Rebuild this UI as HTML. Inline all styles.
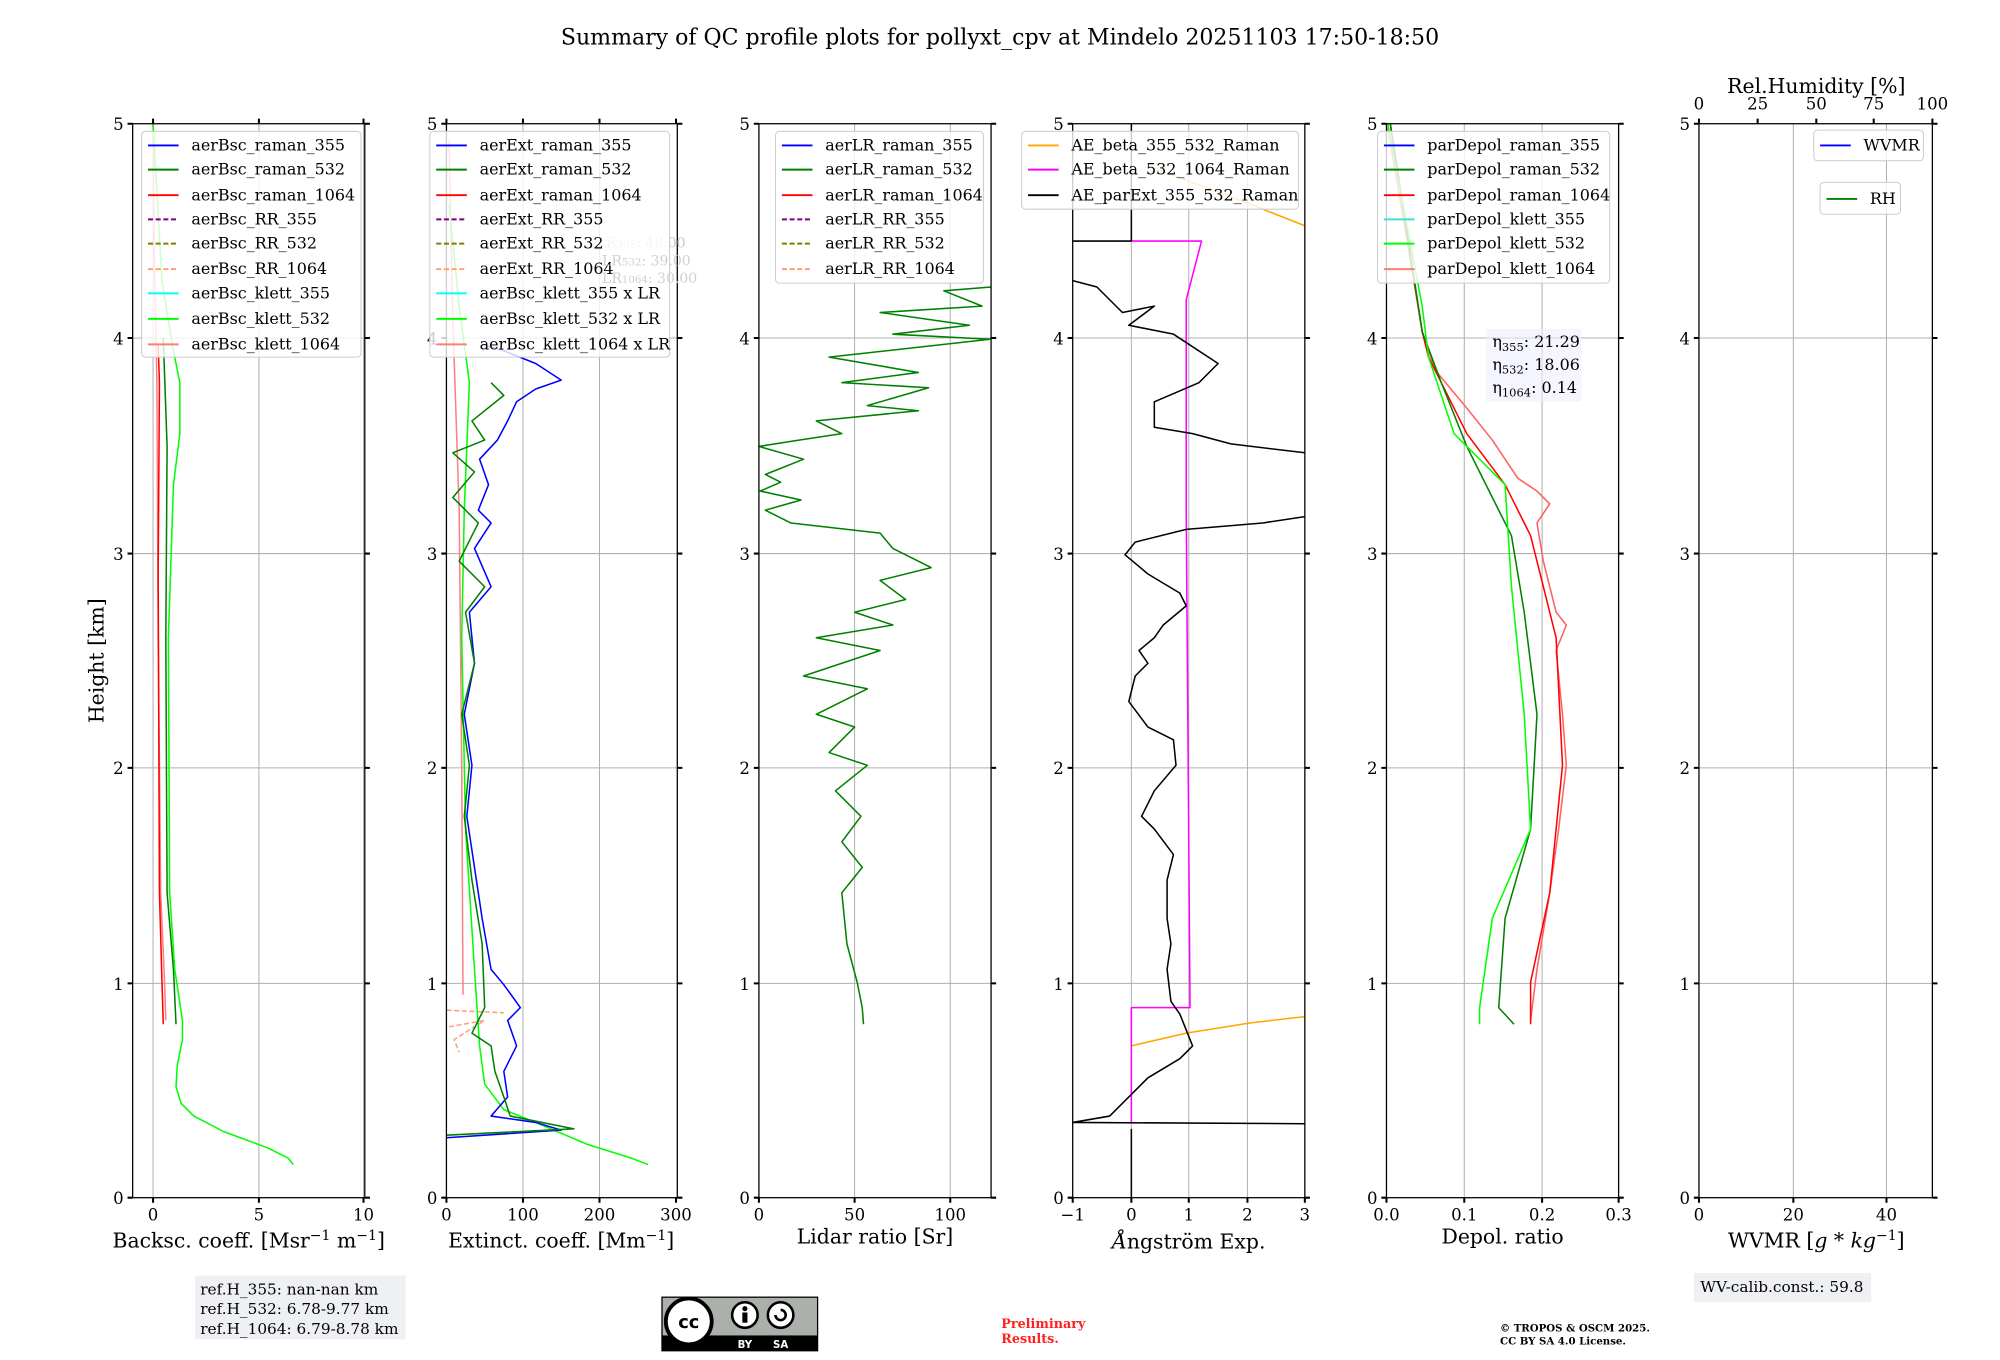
<!DOCTYPE html>
<html><head><meta charset="utf-8"><style>
html,body{margin:0;padding:0;background:#fff}
svg{display:block}
text{font-family:"DejaVu Serif","Liberation Serif",serif;fill:#000}
.t{font-size:13px}
.lg{font-size:12.5px}
.al{font-size:16px}
.gr{stroke:#b0b0b0;stroke-width:0.8}
.sp{fill:none;stroke:#000;stroke-width:1}
.c{fill:none;stroke-width:1.2;stroke-linejoin:round}
.lb{fill:#fff;fill-opacity:0.8;stroke:#ccc;stroke-width:0.8}
</style></head><body>
<svg width="2000" height="1360" viewBox="0 0 2000 1360" xmlns="http://www.w3.org/2000/svg">
<g transform="scale(1.2755)">
<text x="784" y="35" text-anchor="middle" style="font-size:17.3px">Summary of QC profile plots for pollyxt_cpv at Mindelo 20251103 17:50-18:50</text>
<text transform="translate(81,518) rotate(-90)" text-anchor="middle" class="al">Height [km]</text>

<g class="gr">
<path d="M104 265H286M104 434H286M104 602H286M104 771H286"/>
<path d="M350 265H531M350 434H531M350 602H531M350 771H531"/>
<path d="M595 265H777M595 434H777M595 602H777M595 771H777"/>
<path d="M841 265H1023M841 434H1023M841 602H1023M841 771H1023"/>
<path d="M1087 265H1269M1087 434H1269M1087 602H1269M1087 771H1269"/>
<path d="M1332 265H1515M1332 434H1515M1332 602H1515M1332 771H1515"/>
<path d="M120 97V939M203 97V939M285 97V939"/>
<path d="M410 97V939M470 97V939"/>
<path d="M670 97V939M745 97V939"/>
<path d="M887 97V939M932 97V939M978 97V939"/>
<path d="M1148 97V939M1209 97V939"/>
<path d="M1406 97V939M1479 97V939"/>
</g>

<g>
<path class="c" stroke="#ff8080" d="M120 97L121 200L123 300L124 500L126 700L129 770L130 800"/>
<path class="c" stroke="#ff0000" d="M124 270L125 300L124 450L125 700L127 770L128 803"/>
<path class="c" stroke="#008000" d="M128 265L131 350L130 500L131 700L136 760L138 803"/>
<path class="c" stroke="#00ff00" d="M120 97L127 220L135 270L141 300L141 340L136 380L132 500L133 700L137 760L143 800L143 815L139 835L138 852L142 865L152 875L175 887L210 900L226 908L230 913"/>
</g>
<g>
<path class="c" stroke="#ff8080" d="M352 110L355 250L360 400L362 600L363 780"/>
<path class="c" stroke="#ffa07a" stroke-dasharray="4,2" d="M350 792L395 794M352 805L380 800L356 815L360 825"/>
<path class="c" stroke="#00ff00" d="M352 160L360 240L368 300L364 400L362 500L365 650L372 760L376 820L380 850L395 870L420 880L460 897L495 908L508 913"/>
<path class="c" stroke="#0000ff" d="M378 270L395 275L420 285L440 298L420 305L405 315L398 330L390 345L376 360L383 380L375 400L385 410L372 430L385 460L368 480L372 520L364 560L370 600L366 640L372 680L378 720L385 760L395 772L408 790L398 800L405 820L395 840L398 860L385 875L420 880L440 886L350 892"/>
<path class="c" stroke="#008000" d="M385 300L395 310L370 330L380 345L355 355L372 370L355 390L375 410L360 440L380 460L365 480L372 520L362 560L368 600L364 640L370 690L378 740L380 790L370 810L385 820L388 840L395 860L400 875L450 885L350 890"/>
</g>
<g>
<path class="c" stroke="#008000" d="M777 225L740 228L770 240L690 245L760 255L700 262L776 266L650 280L720 292L660 300L728 304L680 318L720 322L640 330L660 340L620 346L595 350L630 360L600 372L612 378L596 385L628 392L600 400L620 410L690 418L700 430L730 445L690 455L710 470L670 480L700 490L640 500L690 510L630 530L680 540L640 560L670 570L650 590L680 600L655 620L675 640L660 660L676 680L660 700L664 740L672 770L676 790L677 803"/>
</g>
<g>
<path class="c" stroke="#ffa500" d="M900 130L940 145L980 160L1023 177"/>
<path class="c" stroke="#ffa500" d="M887 820L930 810L980 802L1023 797"/>
<path class="c" stroke="#ff00ff" d="M887 189L942 189L930 235L930 400L933 790L887 790L887 880"/>
<path class="c" stroke="#000" d="M887 97L887 189M841 189L887 189"/>
<path class="c" stroke="#000" d="M841 220L860 225L880 245L905 240L885 255L920 262L955 285L940 300L905 315L905 335L935 340L965 348L1023 355"/>
<path class="c" stroke="#000" d="M1023 405L990 410L930 415L890 425L882 435L900 450L925 465L930 475L912 490L905 500L893 510L900 520L890 530L885 550L900 570L920 580L922 600L905 620L895 640L905 650L920 670L915 690L915 720L918 740L915 760L918 785L925 795L935 820L925 830L900 845L885 860L870 875L841 880L1023 881M887 885L887 939"/>
</g>
<g>
<path class="c" stroke="#ff6060" stroke-width="1" d="M1088 100L1105 200L1110 230L1115 260L1125 290L1150 320L1170 345L1190 375L1205 385L1215 395L1205 410L1210 440L1220 480L1228 490L1220 510L1225 560L1228 600L1222 650L1215 700L1205 760L1200 800"/>
<path class="c" stroke="#ff0000" d="M1090 97L1115 260L1120 280L1150 340L1180 380L1200 420L1210 460L1220 500L1225 600L1215 700L1200 770L1200 803"/>
<path class="c" stroke="#008000" d="M1090 97L1115 260L1130 300L1150 350L1185 420L1195 480L1205 560L1200 650L1180 720L1175 790L1187 803"/>
<path class="c" stroke="#00ff00" d="M1088 97L1115 240L1120 280L1140 340L1180 380L1185 460L1195 560L1200 650L1170 720L1160 790L1160 803"/>
<rect x="1165" y="258" width="75" height="57" fill="#eef" fill-opacity="0.6"/>
<text x="1170" y="272" class="lg">η<tspan font-size="9" dy="3">355</tspan><tspan dy="-3">: 21.29</tspan></text>
<text x="1170" y="290" class="lg">η<tspan font-size="9" dy="3">532</tspan><tspan dy="-3">: 18.06</tspan></text>
<text x="1170" y="308" class="lg">η<tspan font-size="9" dy="3">1064</tspan><tspan dy="-3">: 0.14</tspan></text>
</g>

<g class="sp">
<rect x="104" y="97" width="182" height="842"/>
<rect x="350" y="97" width="181" height="842"/>
<rect x="595" y="97" width="182" height="842"/>
<rect x="841" y="97" width="182" height="842"/>
<rect x="1087" y="97" width="182" height="842"/>
<rect x="1332" y="97" width="183" height="842"/>
</g>
<g stroke="#000" stroke-width="1.6">
<path d="M100 97h4M100 265h4M100 434h4M100 602h4M100 771h4M100 939h4M286 97h4M286 265h4M286 434h4M286 602h4M286 771h4M286 939h4"/>
<path d="M346 97h4M346 265h4M346 434h4M346 602h4M346 771h4M346 939h4M531 97h4M531 265h4M531 434h4M531 602h4M531 771h4M531 939h4"/>
<path d="M591 97h4M591 265h4M591 434h4M591 602h4M591 771h4M591 939h4M777 97h4M777 265h4M777 434h4M777 602h4M777 771h4M777 939h4"/>
<path d="M837 97h4M837 265h4M837 434h4M837 602h4M837 771h4M837 939h4M1023 97h4M1023 265h4M1023 434h4M1023 602h4M1023 771h4M1023 939h4"/>
<path d="M1083 97h4M1083 265h4M1083 434h4M1083 602h4M1083 771h4M1083 939h4M1269 97h4M1269 265h4M1269 434h4M1269 602h4M1269 771h4M1269 939h4"/>
<path d="M1328 97h4M1328 265h4M1328 434h4M1328 602h4M1328 771h4M1328 939h4M1515 97h4M1515 265h4M1515 434h4M1515 602h4M1515 771h4M1515 939h4"/>
<path d="M120 939v4M203 939v4M285 939v4M120 97v-4M203 97v-4M285 97v-4"/>
<path d="M350 939v4M410 939v4M470 939v4M530 939v4M350 97v-4M410 97v-4M470 97v-4M530 97v-4"/>
<path d="M595 939v4M670 939v4M745 939v4"/>
<path d="M841 939v4M887 939v4M932 939v4M978 939v4M1023 939v4"/>
<path d="M1087 939v4M1148 939v4M1209 939v4M1269 939v4"/>
<path d="M1332 939v4M1406 939v4M1479 939v4M1332 97v-4M1378 97v-4M1424 97v-4M1469 97v-4M1515 97v-4"/>
</g>

<g class="t" text-anchor="end">
<text x="97" y="102">5</text><text x="97" y="270">4</text><text x="97" y="439">3</text><text x="97" y="607">2</text><text x="97" y="776">1</text><text x="97" y="944">0</text>
<text x="343" y="102">5</text><text x="343" y="270">4</text><text x="343" y="439">3</text><text x="343" y="607">2</text><text x="343" y="776">1</text><text x="343" y="944">0</text>
<text x="588" y="102">5</text><text x="588" y="270">4</text><text x="588" y="439">3</text><text x="588" y="607">2</text><text x="588" y="776">1</text><text x="588" y="944">0</text>
<text x="834" y="102">5</text><text x="834" y="270">4</text><text x="834" y="439">3</text><text x="834" y="607">2</text><text x="834" y="776">1</text><text x="834" y="944">0</text>
<text x="1080" y="102">5</text><text x="1080" y="270">4</text><text x="1080" y="439">3</text><text x="1080" y="607">2</text><text x="1080" y="776">1</text><text x="1080" y="944">0</text>
<text x="1325" y="102">5</text><text x="1325" y="270">4</text><text x="1325" y="439">3</text><text x="1325" y="607">2</text><text x="1325" y="776">1</text><text x="1325" y="944">0</text>
</g>
<g class="t" text-anchor="middle">
<text x="120" y="957">0</text><text x="203" y="957">5</text><text x="285" y="957">10</text>
<text x="350" y="957">0</text><text x="410" y="957">100</text><text x="470" y="957">200</text><text x="530" y="957">300</text>
<text x="595" y="957">0</text><text x="670" y="957">50</text><text x="745" y="957">100</text>
<text x="841" y="957">−1</text><text x="887" y="957">0</text><text x="932" y="957">1</text><text x="978" y="957">2</text><text x="1023" y="957">3</text>
<text x="1087" y="957">0.0</text><text x="1148" y="957">0.1</text><text x="1209" y="957">0.2</text><text x="1269" y="957">0.3</text>
<text x="1332" y="957">0</text><text x="1406" y="957">20</text><text x="1479" y="957">40</text>
<text x="1332" y="86">0</text><text x="1378" y="86">25</text><text x="1424" y="86">50</text><text x="1469" y="86">75</text><text x="1515" y="86">100</text>
</g>
<g class="al" text-anchor="middle">
<text x="195" y="978">Backsc. coeff. [Msr<tspan font-size="11" dy="-6">−1</tspan><tspan dy="6"> m</tspan><tspan font-size="11" dy="-6">−1</tspan><tspan dy="6">]</tspan></text>
<text x="440" y="978">Extinct. coeff. [Mm<tspan font-size="11" dy="-6">−1</tspan><tspan dy="6">]</tspan></text>
<text x="686" y="975">Lidar ratio [Sr]</text>
<text x="932" y="979"><tspan font-style="italic">Å</tspan>ngström Exp.</text>
<text x="1178" y="975">Depol. ratio</text>
<text x="1424" y="978">WVMR [<tspan font-style="italic">g</tspan> * <tspan font-style="italic">kg</tspan><tspan font-size="11" dy="-6">−1</tspan><tspan dy="6">]</tspan></text>
<text x="1424" y="73">Rel.Humidity [%]</text>
</g>

<g class="lg">
<rect class="lb" x="111" y="103" width="172" height="177" rx="3"/>
<g stroke-width="1.5" fill="none">
<path stroke="#0000ff" d="M116 114h24"/><path stroke="#008000" d="M116 133h24"/><path stroke="#ff0000" d="M116 153h24"/>
<path stroke="#800080" stroke-dasharray="4,2" d="M116 172h24"/><path stroke="#808000" stroke-dasharray="4,2" d="M116 191h24"/><path stroke="#ffa07a" stroke-dasharray="4,2" d="M116 211h24"/>
<path stroke="#00ffff" d="M116 230h24"/><path stroke="#00ff00" d="M116 250h24"/><path stroke="#fa8072" d="M116 270h24"/>
</g>
<text x="150" y="118">aerBsc_raman_355</text><text x="150" y="137">aerBsc_raman_532</text><text x="150" y="157">aerBsc_raman_1064</text>
<text x="150" y="176">aerBsc_RR_355</text><text x="150" y="195">aerBsc_RR_532</text><text x="150" y="215">aerBsc_RR_1064</text>
<text x="150" y="234">aerBsc_klett_355</text><text x="150" y="254">aerBsc_klett_532</text><text x="150" y="274">aerBsc_klett_1064</text>

<text x="468" y="194" font-size="11" style="fill:#c8c8c8">LR<tspan font-size="8">355</tspan>: 48.00</text>
<rect class="lb" x="337" y="103" width="188" height="177" rx="3"/>
<g stroke-width="1.5" fill="none">
<path stroke="#0000ff" d="M342 114h24"/><path stroke="#008000" d="M342 133h24"/><path stroke="#ff0000" d="M342 153h24"/>
<path stroke="#800080" stroke-dasharray="4,2" d="M342 172h24"/><path stroke="#808000" stroke-dasharray="4,2" d="M342 191h24"/><path stroke="#ffa07a" stroke-dasharray="4,2" d="M342 211h24"/>
<path stroke="#00ffff" d="M342 230h24"/><path stroke="#00ff00" d="M342 250h24"/><path stroke="#fa8072" d="M342 270h24"/>
</g>
<text x="376" y="118">aerExt_raman_355</text><text x="376" y="137">aerExt_raman_532</text><text x="376" y="157">aerExt_raman_1064</text>
<text x="376" y="176">aerExt_RR_355</text><text x="376" y="195">aerExt_RR_532</text><text x="376" y="215">aerExt_RR_1064</text>
<text x="376" y="234">aerBsc_klett_355 x LR</text><text x="376" y="254">aerBsc_klett_532 x LR</text><text x="376" y="274">aerBsc_klett_1064 x LR</text>
<text x="472" y="208" font-size="11" style="fill:#d0d0d0">LR<tspan font-size="8">532</tspan>: 39.00</text>
<text x="472" y="222" font-size="11" style="fill:#d0d0d0">LR<tspan font-size="8">1064</tspan>: 30.00</text>

<rect class="lb" x="608" y="103" width="163" height="119" rx="3"/>
<g stroke-width="1.5" fill="none">
<path stroke="#0000ff" d="M613 114h24"/><path stroke="#008000" d="M613 133h24"/><path stroke="#ff0000" d="M613 153h24"/>
<path stroke="#800080" stroke-dasharray="4,2" d="M613 172h24"/><path stroke="#808000" stroke-dasharray="4,2" d="M613 191h24"/><path stroke="#ffa07a" stroke-dasharray="4,2" d="M613 211h24"/>
</g>
<text x="647" y="118">aerLR_raman_355</text><text x="647" y="137">aerLR_raman_532</text><text x="647" y="157">aerLR_raman_1064</text>
<text x="647" y="176">aerLR_RR_355</text><text x="647" y="195">aerLR_RR_532</text><text x="647" y="215">aerLR_RR_1064</text>

<rect class="lb" x="801" y="103" width="217" height="61" rx="3"/>
<g stroke-width="1.5" fill="none">
<path stroke="#ffa500" d="M806 114h24"/><path stroke="#ff00ff" d="M806 133h24"/><path stroke="#000" d="M806 153h24"/>
</g>
<text x="840" y="118">AE_beta_355_532_Raman</text><text x="840" y="137">AE_beta_532_1064_Raman</text><text x="840" y="157">AE_parExt_355_532_Raman</text>

<rect class="lb" x="1080" y="103" width="182" height="119" rx="3"/>
<g stroke-width="1.5" fill="none">
<path stroke="#0000ff" d="M1085 114h24"/><path stroke="#008000" d="M1085 133h24"/><path stroke="#ff0000" d="M1085 153h24"/>
<path stroke="#40e0d0" d="M1085 172h24"/><path stroke="#00ff00" d="M1085 191h24"/><path stroke="#fa8072" d="M1085 211h24"/>
</g>
<text x="1119" y="118">parDepol_raman_355</text><text x="1119" y="137">parDepol_raman_532</text><text x="1119" y="157">parDepol_raman_1064</text>
<text x="1119" y="176">parDepol_klett_355</text><text x="1119" y="195">parDepol_klett_532</text><text x="1119" y="215">parDepol_klett_1064</text>

<rect class="lb" x="1422" y="102" width="86" height="24" rx="3"/>
<path stroke="#0000ff" stroke-width="1.5" d="M1427 114h24"/><text x="1461" y="118">WVMR</text>
<rect class="lb" x="1427" y="143" width="63" height="25" rx="3"/>
<path stroke="#008000" stroke-width="1.5" d="M1432 156h24"/><text x="1466" y="160">RH</text>
</g>

<rect x="153" y="1000" width="165" height="50" fill="#eef0f4"/>
<g style="font-size:12px">
<text x="157" y="1015">ref.H_355: nan-nan km</text>
<text x="157" y="1030">ref.H_532: 6.78-9.77 km</text>
<text x="157" y="1046">ref.H_1064: 6.79-8.78 km</text>
</g>
<rect x="1328" y="998" width="139" height="23" fill="#eef0f4"/>
<text x="1333" y="1013" style="font-size:12px">WV-calib.const.: 59.8</text>
<text x="785" y="1041" style="font-size:10px;font-weight:bold;fill:#ff2020">Preliminary</text>
<text x="785" y="1053" style="font-size:10px;font-weight:bold;fill:#ff2020">Results.</text>
<text x="1176" y="1044" style="font-size:8px;font-weight:bold">© TROPOS &amp; OSCM 2025.</text>
<text x="1176" y="1054" style="font-size:8px;font-weight:bold">CC BY SA 4.0 License.</text>
<g>
<rect x="519" y="1017" width="122" height="42" fill="#abb1aa" stroke="#000" stroke-width="1"/>
<rect x="519" y="1047" width="122" height="12" fill="#000"/>
<circle cx="540" cy="1036" r="18" fill="#fff" stroke="#000" stroke-width="3"/>
<text x="540" y="1041" text-anchor="middle" style="font-family:'DejaVu Sans',sans-serif;font-size:14px;font-weight:bold">cc</text>
<circle cx="584" cy="1031" r="10" fill="#fff" stroke="#000" stroke-width="2"/>
<circle cx="584" cy="1026" r="2" fill="#000"/><rect x="582" y="1029" width="4" height="8" fill="#000"/>
<circle cx="612" cy="1031" r="10" fill="#fff" stroke="#000" stroke-width="2"/>
<path d="M608 1031a4 4 0 1 0 4-4" fill="none" stroke="#000" stroke-width="2"/>
<text x="584" y="1057" text-anchor="middle" style="font-family:'DejaVu Sans',sans-serif;font-size:8px;fill:#fff;font-weight:bold">BY</text>
<text x="612" y="1057" text-anchor="middle" style="font-family:'DejaVu Sans',sans-serif;font-size:8px;fill:#fff;font-weight:bold">SA</text>
</g>
</g>
</svg>
</body></html>
